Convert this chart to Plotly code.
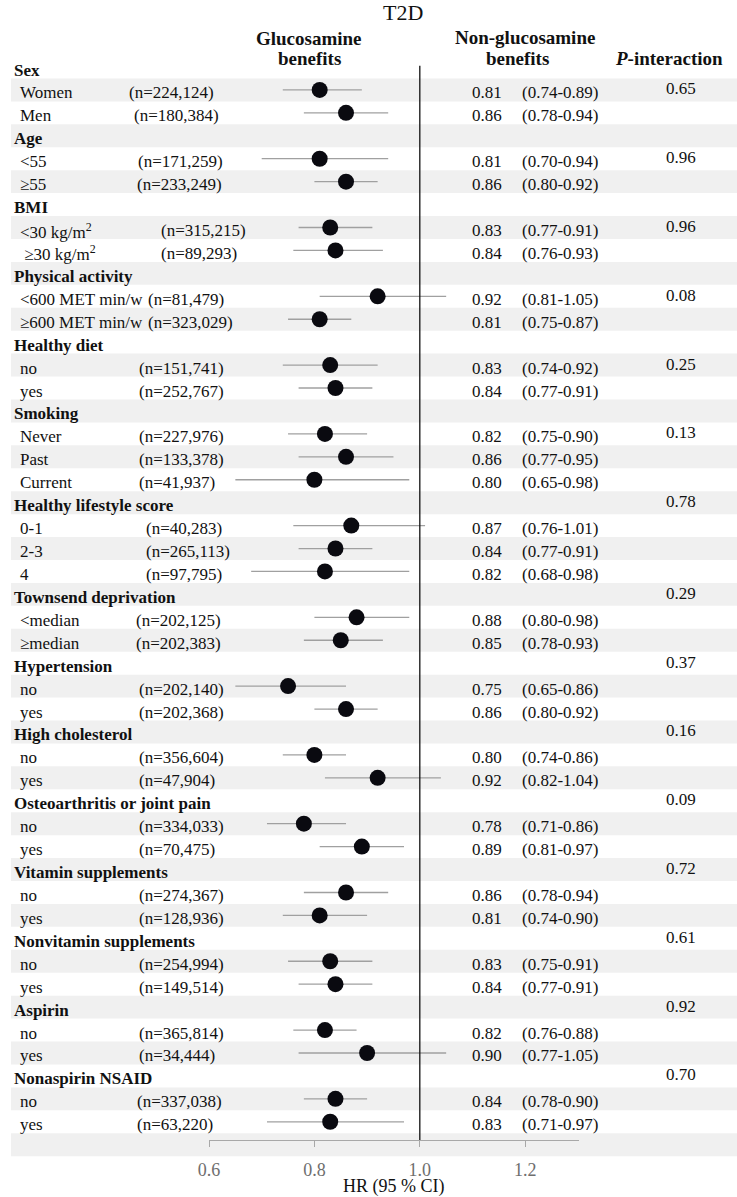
import plotly.graph_objects as go

# ---------------- data ----------------
groups = ["Sex", "Age", "BMI", "Physical activity", "Healthy diet", "Smoking",
          "Healthy lifestyle score", "Townsend deprivation", "Hypertension",
          "High cholesterol", "Osteoarthritis or joint pain", "Vitamin supplements",
          "Nonvitamin supplements", "Aspirin", "Nonaspirin NSAID"]
p_interaction = ["0.65", "0.96", "0.96", "0.08", "0.25", "0.13", "0.78", "0.29",
                 "0.37", "0.16", "0.09", "0.72", "0.61", "0.92", "0.70"]
# 1 = p-value printed on first subgroup row, 0 = on the header row
p_on_first_sub = [1, 1, 1, 1, 1, 1, 0, 0, 0, 0, 0, 0, 0, 0, 0]

sub_labels = [
    ["Women", "Men"],
    ["&lt;55", "≥55"],
    ["&lt;30 kg/m<sup>2</sup>", " ≥30 kg/m<sup>2</sup>"],
    ["&lt;600 MET min/w", "≥600 MET min/w"],
    ["no", "yes"],
    ["Never", "Past", "Current"],
    ["0-1", "2-3", "4"],
    ["&lt;median", "≥median"],
    ["no", "yes"],
    ["no", "yes"],
    ["no", "yes"],
    ["no", "yes"],
    ["no", "yes"],
    ["no", "yes"],
    ["no", "yes"],
]
sub_n = [
    ["224,124", "180,384"],
    ["171,259", "233,249"],
    ["315,215", "89,293"],
    ["81,479", "323,029"],
    ["151,741", "252,767"],
    ["227,976", "133,378", "41,937"],
    ["40,283", "265,113", "97,795"],
    ["202,125", "202,383"],
    ["202,140", "202,368"],
    ["356,604", "47,904"],
    ["334,033", "70,475"],
    ["274,367", "128,936"],
    ["254,994", "149,514"],
    ["365,814", "34,444"],
    ["337,038", "63,220"],
]
hr = [
    [0.81, 0.86], [0.81, 0.86], [0.83, 0.84], [0.92, 0.81], [0.83, 0.84],
    [0.82, 0.86, 0.80], [0.87, 0.84, 0.82], [0.88, 0.85], [0.75, 0.86],
    [0.80, 0.92], [0.78, 0.89], [0.86, 0.81], [0.83, 0.84], [0.82, 0.90],
    [0.84, 0.83],
]
ci_low = [
    [0.74, 0.78], [0.70, 0.80], [0.77, 0.76], [0.81, 0.75], [0.74, 0.77],
    [0.75, 0.77, 0.65], [0.76, 0.77, 0.68], [0.80, 0.78], [0.65, 0.80],
    [0.74, 0.82], [0.71, 0.81], [0.78, 0.74], [0.75, 0.77], [0.76, 0.77],
    [0.78, 0.71],
]
ci_high = [
    [0.89, 0.94], [0.94, 0.92], [0.91, 0.93], [1.05, 0.87], [0.92, 0.91],
    [0.90, 0.95, 0.98], [1.01, 0.91, 0.98], [0.98, 0.93], [0.86, 0.92],
    [0.86, 1.04], [0.86, 0.97], [0.94, 0.90], [0.91, 0.91], [0.88, 1.05],
    [0.90, 0.97],
]
tick_values = [0.6, 0.8, 1.0, 1.2]
tick_labels = ["0.6", "0.8", "1.0", "1.2"]

# ---------------- layout constants (pixels) ----------------
W, H = 737, 1197
ROW0_PX, ROW_H = 67, 22.93
X0_PX, PX_PER_UNIT = 201, 535
AXIS_END_PX = 577
AXIS_PX = 1140
# left position (px) of the "(n=...)" text per subgroup
n_x_px = [
    [118, 123], [127, 126], [150, 150], [137, 137], [128, 128],
    [128, 128, 128], [135, 135, 135], [125, 125], [128, 128], [128, 128],
    [128, 128], [128, 128], [128, 128], [128, 128], [126, 126],
]
LABEL_X, HEADER_X = 7, 1
HR_X, CI_X, P_X = 466, 517, 680
FONT = "Liberation Serif"
TXT = "#111111"
TEXT_SHIFT = -3

px = lambda p: p / W
py = lambda p: 1 - p / H

# ---------------- build rows ----------------
annotations = []
shapes = []
ci_x, ci_y, pt_x, pt_y = [], [], [], []

def add_text(x_px, row, text, anchor="left", bold=False, size=17, shift=TEXT_SHIFT, color=TXT):
    annotations.append(dict(
        x=px(x_px), xref="paper", y=row, yref="y", text=f"<b>{text}</b>" if bold else text,
        showarrow=False, xanchor=anchor, yanchor="middle", yshift=shift,
        font=dict(family=FONT, size=size, color=color)))

row = 1
for g, name in enumerate(groups):
    add_text(HEADER_X, row, name, bold=True)
    header_row = row
    for j, lab in enumerate(sub_labels[g]):
        row += 1
        add_text(LABEL_X, row, lab)
        add_text(n_x_px[g][j], row, f"(n={sub_n[g][j]})")
        add_text(HR_X, row, f"{hr[g][j]:.2f}")
        add_text(CI_X, row, f"({ci_low[g][j]:.2f}-{ci_high[g][j]:.2f})")
        ci_x += [ci_low[g][j], ci_high[g][j], None]
        ci_y += [row, row, None]
        pt_x.append(hr[g][j])
        pt_y.append(row)
    add_text(P_X, header_row + p_on_first_sub[g], p_interaction[g], anchor="center",
             shift=TEXT_SHIFT + 4)
    row += 1
n_rows = row  # final empty row holds the axis

# stripes on even rows
for r in range(2, n_rows + 1, 2):
    shapes.append(dict(type="rect", xref="paper", yref="y", x0=0, x1=1,
                       y0=r - 0.5, y1=r + 0.5, fillcolor="#f0f0f0",
                       line=dict(width=0), layer="below"))

axis_row = 1 + (AXIS_PX - ROW0_PX) / ROW_H
shapes.append(dict(type="line", xref="x", yref="y", x0=1.0, x1=1.0, y0=0.95,
                   y1=axis_row, line=dict(color="#111111", width=1.3)))

fig = go.Figure()
fig.add_trace(go.Scatter(x=ci_x, y=ci_y, mode="lines",
                         line=dict(color="#a0a0a0", width=1.3),
                         hoverinfo="skip", showlegend=False))
fig.add_trace(go.Scatter(x=pt_x, y=pt_y, mode="markers",
                         marker=dict(size=16, color="#0a0a10",
                                     line=dict(width=0)),
                         showlegend=False))

# headers
head_font = dict(family=FONT, size=19, color=TXT)
for txt, xc, yc in [("<b>Glucosamine</b>", 303, 38), ("<b>benefits</b>", 303, 59),
                    ("<b>Non-glucosamine</b>", 522, 37), ("<b>benefits</b>", 514, 58),
                    ("<b><i>P</i>-interaction</b>", 668, 59)]:
    annotations.append(dict(x=px(xc), y=py(yc), xref="paper", yref="paper", text=txt,
                            showarrow=False, xanchor="center", yanchor="middle",
                            font=head_font))
annotations.append(dict(x=px(398), y=py(12), xref="paper", yref="paper", text="T2D",
                        showarrow=False, xanchor="center", yanchor="middle",
                        font=dict(family=FONT, size=22, color=TXT)))
annotations.append(dict(x=0.5, y=py(1186), xref="x domain", yref="paper",
                        text="HR (95 % CI)", showarrow=False, xanchor="center",
                        yanchor="middle", font=dict(family=FONT, size=18, color=TXT)))

fig.update_layout(
    width=W, height=H, margin=dict(l=0, r=0, t=0, b=0),
    paper_bgcolor="white", plot_bgcolor="rgba(0,0,0,0)",
    showlegend=False, shapes=shapes, annotations=annotations,
    xaxis=dict(domain=[px(X0_PX), px(AXIS_END_PX)],
               range=[0.6, 0.6 + (AXIS_END_PX - X0_PX) / PX_PER_UNIT],
               anchor="free", position=py(AXIS_PX),
               showline=True, linecolor="#a8a8a8", linewidth=1,
               ticks="outside", ticklen=6, tickcolor="#a8a8a8",
               tickvals=tick_values, ticktext=tick_labels, ticklabelstandoff=7,
               tickfont=dict(family=FONT, size=18, color="#6e6e6e"),
               showgrid=False, zeroline=False, fixedrange=True),
    yaxis=dict(domain=[0, 1],
               range=[1 + (H - ROW0_PX) / ROW_H, 1 - ROW0_PX / ROW_H],
               visible=False, showgrid=False, zeroline=False, fixedrange=True),
)

fig.write_html(
    "out.html",
    config={"displayModeBar": False},
    post_script="document.body.style.margin='0';document.body.style.overflow='hidden';",
)
